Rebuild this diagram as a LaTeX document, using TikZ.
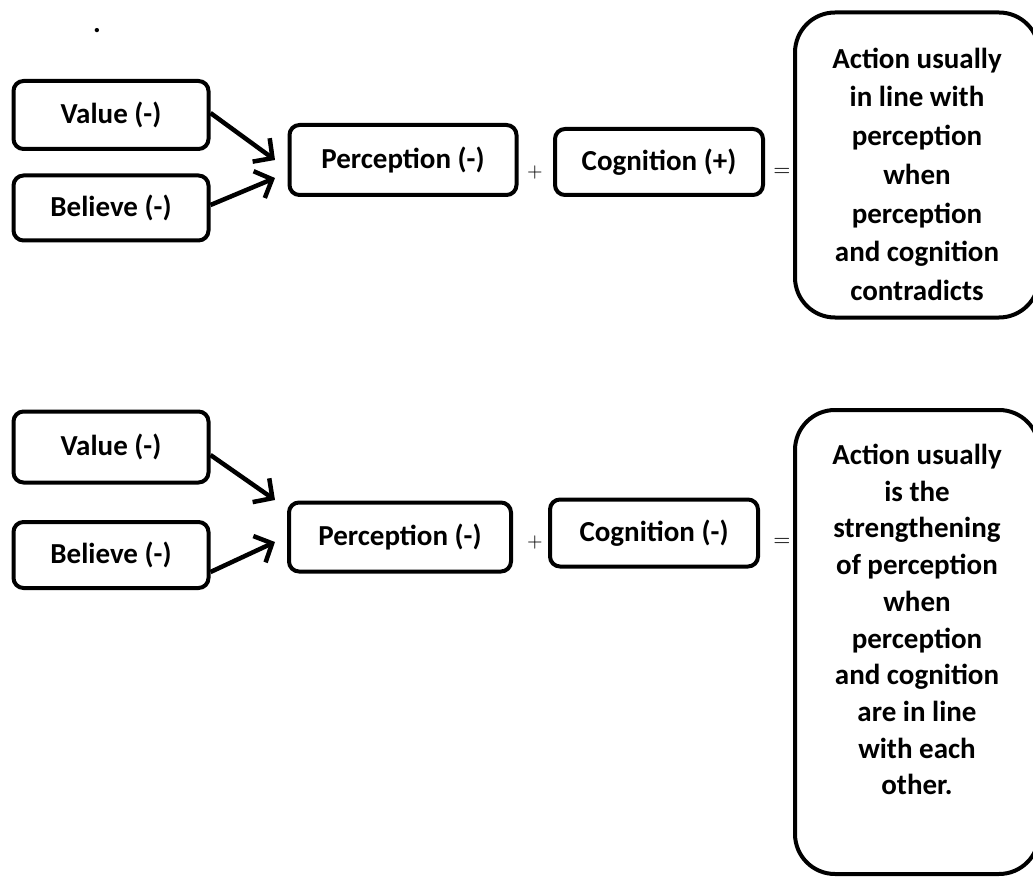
\documentclass[tikz,border=0pt]{standalone}
\usepackage[no-math]{fontspec}
\setmainfont{Carlito}
\usetikzlibrary{arrows.meta}

\begin{document}
\begin{tikzpicture}[x=1pt, y=-1pt,
    base/.style = {rectangle, rounded corners=10pt, draw=black, line width=4pt,
minimum width=195pt, minimum height=68pt,
text centered, font=\fontsize{29}{38}\selectfont\bfseries},
    process/.style = {base, minimum width=222pt},
    action/.style = {base, rounded corners=40pt, minimum width=244pt, align=center},
    sign/.style = {inner sep=0pt},
    arrow/.style = {line width=4.5pt, -{Straight Barb[length=14pt,width=29pt]}},
every node/.style={fill=white}
]

  \useasboundingbox (0,0) rectangle (1033,877);

  \node (dot) [font=\fontsize{29}{38}\selectfont\bfseries] at (97,31) {.};

  % contradicting case
  \node (value1)   [base] at (111,115) {Value (-)};
  \node (believe1) [base, minimum height=65pt] at (111,208) {Believe (-)};
  \node (percep1)  [process, minimum width=227pt, minimum height=70pt] at (403,160) {Perception (-)};
  \node (plus1)    [sign] at (535,173) {\scalebox{2}{$+$}};
  \node (cogn1)    [base, minimum width=208pt, minimum height=66pt] at (659,162) {Cognition (+)};
  \node (eq1)      [sign] at (782,172) {\scalebox{2.2}{$=$}};
  \node (act1)     [action, minimum height=305pt, font=\fontsize{29}{38.7}\selectfont\bfseries] at (917,165)
    {\rule{0pt}{39pt}Action usually\\in line with\\perception\\when\\perception\\and cognition\\contradicts};

  \coordinate (in1a) at (275,160);
  \coordinate (in1b) at (275,178);
  \draw[arrow] ([yshift=2pt]value1.east) -- (in1a);
  \draw[arrow] ([yshift=3pt]believe1.east) -- (in1b);

  % same direction case
  \node (value2)   [base, minimum height=71pt] at (111,447) {Value (-)};
  \node (believe2) [base, minimum height=66pt] at (111,555) {Believe (-)};
  \node (percep2)  [process, minimum height=69pt] at (400,537) {Perception (-)};
  \node (plus2)    [sign] at (535,542) {\scalebox{2}{$+$}};
  \node (cogn2)    [base, minimum width=208pt, minimum height=67pt] at (654,533) {Cognition (-)};
  \node (eq2)      [sign] at (782,542) {\scalebox{2.2}{$=$}};
  \node (act2)     [action, minimum height=464pt, font=\fontsize{29}{36.7}\selectfont\bfseries] at (917,642)
    {Action usually\\is the\\strengthening\\of perception\\when\\perception\\and cognition\\are in line\\with each\\other.\rule[-45pt]{0pt}{0pt}};

  \coordinate (in2a) at (275,500);
  \coordinate (in2b) at (275,542);
  \draw[arrow] ([yshift=-8pt]value2.east) -- (in2a);
  \draw[arrow] ([yshift=-17pt]believe2.east) -- (in2b);

\end{tikzpicture}
\end{document}
